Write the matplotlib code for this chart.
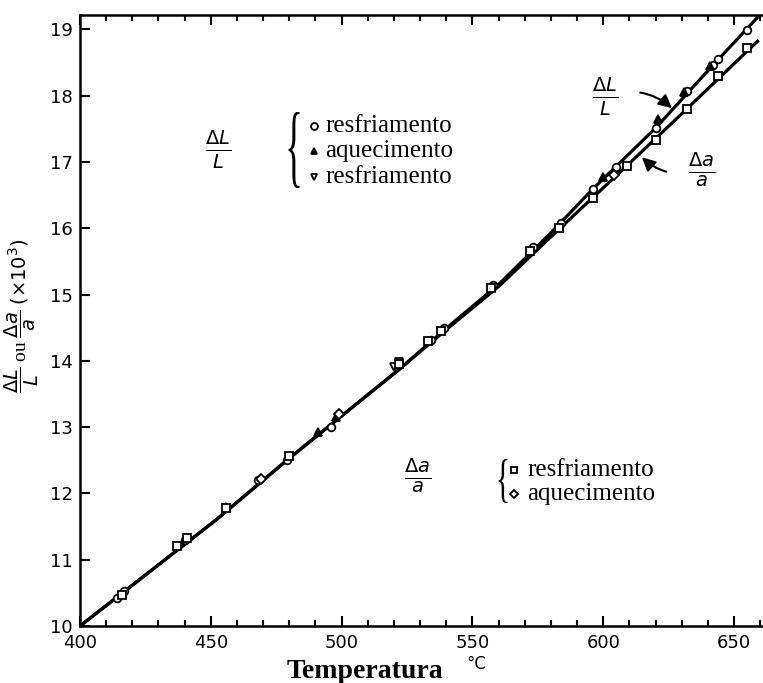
import matplotlib
matplotlib.use("Agg")
import matplotlib.pyplot as plt
from matplotlib.lines import Line2D
from matplotlib.patches import PathPatch
from matplotlib.textpath import TextPath
from matplotlib.font_manager import FontProperties
from matplotlib.transforms import Affine2D
from matplotlib.ticker import MultipleLocator

# curvas tracadas (vertices)
temp_L = [400, 452, 480, 522, 540, 560, 580, 596, 620, 642, 659]
curva_L = [10.0, 11.6, 12.53, 13.87, 14.49, 15.15, 15.93, 16.59, 17.51, 18.46, 19.18]
temp_a = [400, 452, 480, 522, 540, 560, 580, 596, 609, 632, 659]
curva_a = [10.0, 11.6, 12.53, 13.87, 14.47, 15.12, 15.87, 16.46, 16.94, 17.80, 18.82]

# pontos medidos
L_resf_T = [414, 417, 440, 468, 479, 496, 534, 539, 558, 573, 584, 596, 605, 620, 632, 642, 644, 655]
L_resf = [10.42, 10.53, 11.3, 12.2, 12.5, 13.0, 14.32, 14.5, 15.15, 15.72, 16.08, 16.59, 16.92, 17.51, 18.07, 18.46, 18.55, 18.99]
L_aq_T = [456, 491, 498, 600, 621, 631, 641]
L_aq = [11.8, 12.93, 13.15, 16.77, 17.65, 18.05, 18.45]
L_resf2_T = [520, 522]
L_resf2 = [13.9, 13.98]
a_resf_T = [416, 437, 441, 456, 480, 522, 533, 538, 557, 572, 583, 596, 609, 620, 632, 644, 655]
a_resf = [10.47, 11.2, 11.33, 11.78, 12.56, 13.95, 14.3, 14.45, 15.1, 15.65, 16.0, 16.46, 16.94, 17.33, 17.80, 18.29, 18.72]
a_aq_T = [469, 499, 604]
a_aq = [12.22, 13.2, 16.8]

W, H = 763, 683


def fx(px):
    return px / W


def fy(py):
    return 1 - py / H


def brace(fig, cx, cy, w, h):
    # chave "{" esticada para a altura pedida (em pixels)
    tp = TextPath((0, 0), "{", size=1, prop=FontProperties(family="Liberation Serif"))
    ext = tp.get_extents()
    tr = (Affine2D().translate(-(ext.x0 + ext.x1) / 2, -(ext.y0 + ext.y1) / 2)
          .scale(w / ext.width, h / ext.height).translate(cx, H - cy).scale(1 / W, 1 / H))
    fig.add_artist(PathPatch(tp, transform=tr + fig.transFigure, fc="black", ec="none"))


fig = plt.figure(figsize=(W / 100, H / 100), dpi=100)
ax = fig.add_axes([fx(80), fy(626), 1 - fx(80), fy(15) - fy(626)])

ax.plot(temp_L, curva_L, color="black", lw=2.3, zorder=2)
ax.plot(temp_a, curva_a, color="black", lw=2.3, zorder=2)

mk = dict(ls="none", ms=5.5, mec="black", mew=1.3, zorder=3, clip_on=False)
ax.plot(L_resf_T, L_resf, marker="o", mfc="white", **mk)
ax.plot(L_aq_T, L_aq, marker="^", mfc="black", **mk)
ax.plot(L_resf2_T, L_resf2, marker="v", mfc="white", **mk)
ax.plot(a_resf_T, a_resf, marker="s", mfc="white", **mk)
ax.plot(a_aq_T, a_aq, marker="D", mfc="white", ms=4.8, ls="none", mec="black", mew=1.3, zorder=3)

ax.set_xlim(400, 400 + 683 / 2.616)
ax.set_ylim(10, 10 + 611 / 66.3)
ax.xaxis.set_major_locator(MultipleLocator(50))
ax.xaxis.set_minor_locator(MultipleLocator(10))
ax.yaxis.set_major_locator(MultipleLocator(1))
ax.tick_params(which="both", direction="in", top=True, right=False, width=1.5)
ax.tick_params(which="major", length=7, labelsize=13)
ax.tick_params(axis="x", which="major", pad=6)
ax.tick_params(axis="y", which="major", pad=5)
ax.tick_params(which="minor", length=4)
for s in ["left", "bottom", "top"]:
    ax.spines[s].set_linewidth(1.8)
ax.spines["right"].set_visible(False)

plt.rcParams["mathtext.fontset"] = "dejavusans"
serif = "Liberation Serif"

# rotulo do eixo y
fig.text(fx(22), fy(316), r"$\dfrac{\Delta L}{L}$" + " ou " + r"$\dfrac{\Delta a}{a}$" + r" $(\times 10^3)$",
         rotation=90, ha="center", va="center", fontsize=14, family=serif)

# rotulo do eixo x
fig.text(fx(443), fy(678), "Temperatura", ha="right", va="baseline", fontsize=20,
         family=serif, weight="bold")
fig.text(fx(476), fy(664), "°C", ha="center", va="center", fontsize=12)

# legenda superior
fig.text(fx(218), fy(150), r"$\frac{\Delta L}{L}$", ha="center", va="center", fontsize=20)
brace(fig, 294, 150, 11, 76)
rows_top = [("o", "white", "resfriamento", 126), ("^", "black", "aquecimento", 151),
            ("v", "white", "resfriamento", 177)]
for m, fc, txt, py in rows_top:
    fig.add_artist(Line2D([fx(314)], [fy(py)], marker=m, mfc=fc, mec="black", mew=1.3, ms=5,
                          transform=fig.transFigure))
    fig.text(fx(325), fy(py), txt, ha="left", va="center", fontsize=18, family=serif)

# legenda inferior
fig.text(fx(418), fy(476), r"$\frac{\Delta a}{a}$", ha="center", va="center", fontsize=20)
brace(fig, 503, 481, 9, 44)
rows_bot = [("s", "resfriamento", 470), ("D", "aquecimento", 494)]
for m, txt, py in rows_bot:
    fig.add_artist(Line2D([fx(514)], [fy(py)], marker=m, mfc="white", mec="black", mew=1.3,
                          ms=4.5 if m == "D" else 5, transform=fig.transFigure))
    fig.text(fx(527), fy(py), txt, ha="left", va="center", fontsize=18, family=serif)

# setas das curvas
ax.annotate(r"$\frac{\Delta L}{L}$", xy=(626.3, 17.81), xycoords="data",
            xytext=(fx(605), fy(97)), textcoords="figure fraction", ha="center", va="center",
            fontsize=20,
            arrowprops=dict(arrowstyle="-|>", color="black", lw=1.5, shrinkA=14, shrinkB=0,
                            connectionstyle="arc3,rad=-0.3"))
ax.annotate(r"$\frac{\Delta a}{a}$", xy=(614.8, 17.07), xycoords="data",
            xytext=(fx(702), fy(170)), textcoords="figure fraction", ha="center", va="center",
            fontsize=20,
            arrowprops=dict(arrowstyle="-|>", color="black", lw=1.5, shrinkA=14, shrinkB=0,
                            connectionstyle="arc3,rad=-0.3"))

fig.savefig("out.png", dpi=100)
